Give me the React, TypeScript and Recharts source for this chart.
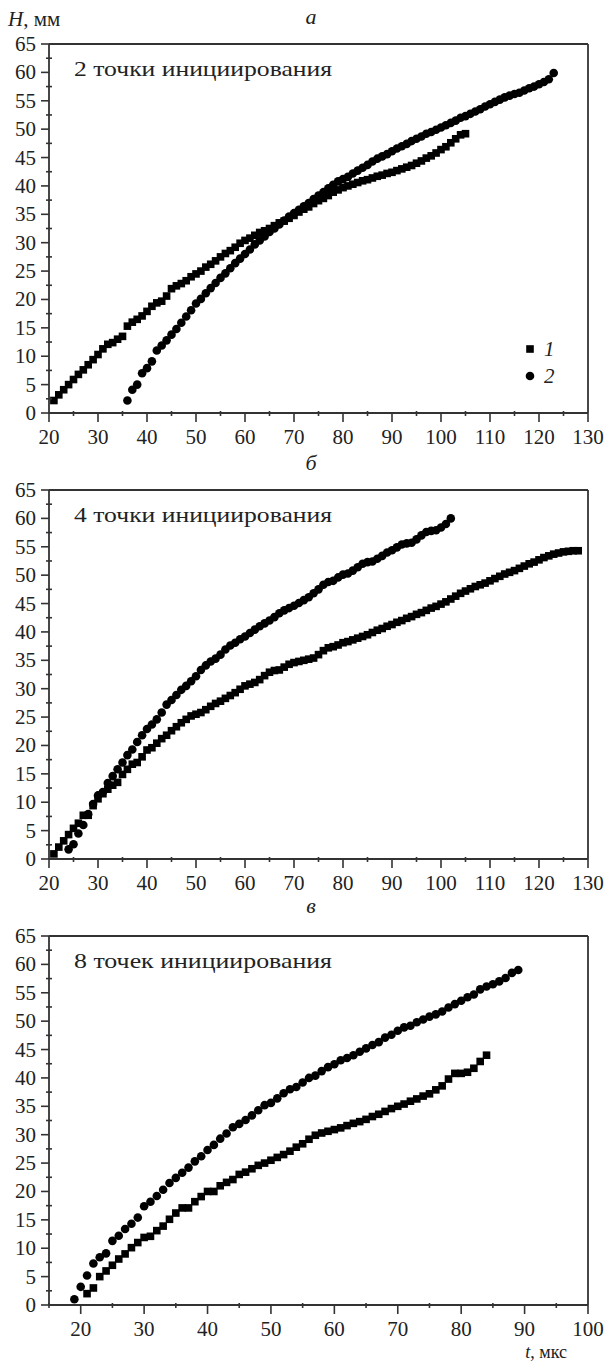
import React from "react";
import { ScatterChart, Scatter, XAxis, YAxis, ReferenceLine, Legend } from "recharts";

// ---------- data: [t (мкс), H (мм)] ----------
const A1: [number, number][] = [[21,2.2],[22,3.2],[23,4.1],[24,5.0],[25,5.9],[26,6.8],[27,7.6],[28,8.5],[29,9.4],[30,10.3],[31,11.3],[32,12.1],[33,12.4],[34,13.0],[35,13.5],[36,15.3],[37,16.0],[38,16.5],[39,17.1],[40,17.9],[41,18.8],[42,19.4],[43,19.7],[44,20.6],[45,21.9],[46,22.4],[47,22.8],[48,23.3],[49,24.0],[50,24.5],[51,25.0],[52,25.7],[53,26.2],[54,26.8],[55,27.5],[56,28.1],[57,28.6],[58,29.2],[59,29.9],[60,30.4],[61,30.8],[62,31.3],[63,31.8],[64,32.1],[65,32.5],[66,33.0],[67,33.5],[68,33.8],[69,34.3],[70,34.8],[71,35.4],[72,35.9],[73,36.3],[74,36.9],[75,37.4],[76,37.8],[77,38.3],[78,38.9],[79,39.3],[80,39.7],[81,40.0],[82,40.3],[83,40.6],[84,40.9],[85,41.1],[86,41.4],[87,41.7],[88,41.9],[89,42.2],[90,42.4],[91,42.7],[92,43.0],[93,43.3],[94,43.6],[95,44.0],[96,44.4],[97,44.9],[98,45.3],[99,45.8],[100,46.4],[101,46.9],[102,47.6],[103,48.3],[104,49.0],[105,49.2]];
const A2: [number, number][] = [[36,2.2],[37,4.1],[38,5.0],[39,7.0],[40,7.9],[41,9.1],[42,11.0],[43,11.9],[44,12.8],[45,13.8],[46,14.8],[47,15.9],[48,17.0],[49,18.1],[50,19.3],[51,20.1],[52,21.1],[53,22.0],[54,22.9],[55,23.8],[56,24.6],[57,25.5],[58,26.4],[59,27.2],[60,28.0],[61,28.8],[62,29.7],[63,30.4],[64,31.1],[65,31.9],[66,32.5],[67,33.2],[68,33.9],[69,34.6],[70,35.2],[71,35.8],[72,36.4],[73,37.0],[74,37.7],[75,38.3],[76,38.9],[77,39.6],[78,40.2],[79,40.8],[80,41.2],[81,41.6],[82,42.2],[83,42.7],[84,43.2],[85,43.7],[86,44.3],[87,44.8],[88,45.2],[89,45.6],[90,46.1],[91,46.6],[92,47.0],[93,47.4],[94,47.9],[95,48.3],[96,48.7],[97,49.2],[98,49.5],[99,49.9],[100,50.3],[101,50.7],[102,51.1],[103,51.5],[104,52.0],[105,52.3],[106,52.7],[107,53.1],[108,53.5],[109,54.0],[110,54.4],[111,54.8],[112,55.2],[113,55.6],[114,55.9],[115,56.2],[116,56.4],[117,56.8],[118,57.2],[119,57.5],[120,57.9],[121,58.3],[122,58.8],[123,59.9]];

const B1: [number, number][] = [[21,0.9],[22,2.1],[23,3.2],[24,4.3],[25,5.4],[26,6.3],[27,7.7],[28,7.7],[29,9.4],[30,10.6],[31,11.5],[32,12.3],[33,13.0],[34,13.5],[35,14.9],[36,15.8],[37,16.7],[38,17.0],[39,18.0],[40,19.2],[41,19.6],[42,20.4],[43,21.2],[44,21.8],[45,22.6],[46,23.3],[47,24.0],[48,24.6],[49,25.2],[50,25.5],[51,25.8],[52,26.3],[53,26.9],[54,27.4],[55,27.8],[56,28.3],[57,28.8],[58,29.3],[59,29.9],[60,30.5],[61,30.8],[62,31.1],[63,31.6],[64,32.3],[65,32.9],[66,33.2],[67,33.3],[68,33.8],[69,34.3],[70,34.6],[71,34.8],[72,35.0],[73,35.2],[74,35.4],[75,36.0],[76,36.7],[77,37.2],[78,37.4],[79,37.7],[80,38.1],[81,38.3],[82,38.6],[83,38.9],[84,39.2],[85,39.5],[86,39.9],[87,40.3],[88,40.6],[89,41.0],[90,41.3],[91,41.7],[92,42.0],[93,42.4],[94,42.7],[95,43.1],[96,43.4],[97,43.8],[98,44.2],[99,44.5],[100,44.9],[101,45.3],[102,45.8],[103,46.3],[104,46.8],[105,47.2],[106,47.6],[107,48.0],[108,48.3],[109,48.6],[110,49.0],[111,49.4],[112,49.8],[113,50.2],[114,50.5],[115,50.8],[116,51.2],[117,51.6],[118,52.0],[119,52.3],[120,52.7],[121,53.1],[122,53.4],[123,53.7],[124,53.9],[125,54.1],[126,54.2],[127,54.3],[128,54.3]];
const B2: [number, number][] = [[24,1.7],[25,2.6],[26,4.5],[27,6.0],[28,7.9],[29,9.7],[30,11.2],[31,11.8],[32,13.4],[33,14.6],[34,15.8],[35,17.0],[36,18.3],[37,19.3],[38,20.6],[39,21.8],[40,22.9],[41,23.7],[42,24.6],[43,25.8],[44,27.2],[45,28.0],[46,28.9],[47,29.8],[48,30.5],[49,31.3],[50,32.2],[51,33.3],[52,34.1],[53,34.8],[54,35.3],[55,36.0],[56,36.9],[57,37.6],[58,38.1],[59,38.7],[60,39.2],[61,39.8],[62,40.4],[63,41.0],[64,41.5],[65,42.0],[66,42.6],[67,43.3],[68,43.8],[69,44.2],[70,44.6],[71,45.1],[72,45.6],[73,46.1],[74,46.8],[75,47.5],[76,48.3],[77,48.8],[78,49.0],[79,49.6],[80,50.1],[81,50.3],[82,50.8],[83,51.4],[84,52.0],[85,52.3],[86,52.4],[87,52.9],[88,53.4],[89,54.0],[90,54.4],[91,54.9],[92,55.4],[93,55.6],[94,55.7],[95,56.3],[96,57.0],[97,57.6],[98,57.8],[99,57.9],[100,58.4],[101,59.0],[102,60.0]];

const C1: [number, number][] = [[21,2.0],[22,3.0],[23,5.0],[24,6.0],[25,7.0],[26,8.1],[27,9.0],[28,10.1],[29,11.0],[30,11.9],[31,12.1],[32,13.1],[33,13.9],[34,15.1],[35,16.2],[36,17.1],[37,17.1],[38,18.2],[39,19.1],[40,20.0],[41,20.0],[42,21.0],[43,21.6],[44,22.1],[45,23.0],[46,23.4],[47,24.0],[48,24.6],[49,25.0],[50,25.5],[51,26.0],[52,26.5],[53,27.1],[54,27.8],[55,28.4],[56,29.2],[57,29.9],[58,30.3],[59,30.6],[60,30.9],[61,31.2],[62,31.6],[63,32.0],[64,32.3],[65,32.7],[66,33.2],[67,33.6],[68,34.1],[69,34.6],[70,35.0],[71,35.4],[72,35.9],[73,36.3],[74,36.8],[75,37.2],[76,37.9],[77,38.6],[78,39.8],[79,40.8],[80,40.8],[81,41.0],[82,41.7],[83,42.9],[84,44.0]];
const C2: [number, number][] = [[19,1.0],[20,3.2],[21,5.2],[22,7.3],[23,8.4],[24,9.1],[25,11.3],[26,12.2],[27,13.4],[28,14.3],[29,15.4],[30,17.4],[31,18.2],[32,19.2],[33,20.3],[34,21.5],[35,22.4],[36,23.3],[37,24.2],[38,25.3],[39,26.2],[40,27.3],[41,28.2],[42,29.3],[43,30.2],[44,31.3],[45,31.9],[46,32.6],[47,33.4],[48,34.3],[49,35.2],[50,35.6],[51,36.4],[52,37.3],[53,38.0],[54,38.4],[55,39.2],[56,40.0],[57,40.4],[58,41.2],[59,41.9],[60,42.4],[61,43.1],[62,43.5],[63,44.0],[64,44.6],[65,45.2],[66,45.8],[67,46.3],[68,47.1],[69,47.6],[70,48.3],[71,48.9],[72,49.2],[73,49.8],[74,50.3],[75,50.8],[76,51.2],[77,51.7],[78,52.4],[79,53.0],[80,53.6],[81,54.2],[82,54.7],[83,55.6],[84,56.1],[85,56.5],[86,57.0],[87,57.6],[88,58.5],[89,59.0]];

// ---------- ticks ----------
const Y_TICKS = [0, 2.5, 5, 7.5, 10, 12.5, 15, 17.5, 20, 22.5, 25, 27.5, 30, 32.5, 35, 37.5, 40, 42.5, 45, 47.5, 50, 52.5, 55, 57.5, 60, 62.5, 65];
const X_TICKS_AB = [20, 25, 30, 35, 40, 45, 50, 55, 60, 65, 70, 75, 80, 85, 90, 95, 100, 105, 110, 115, 120, 125, 130];
const X_TICKS_C = [15, 20, 25, 30, 35, 40, 45, 50, 55, 60, 65, 70, 75, 80, 85, 90, 95, 100];

const PANEL_TITLES = ["а", "б", "в"];
const PANEL_NOTES = ["2 точки инициирования", "4 точки инициирования", "8 точек инициирования"];
const LEGEND_ITEMS = [{ label: "1", shape: "square" }, { label: "2", shape: "circle" }];

const AX = "#333";
const FONT = "Liberation Serif, DejaVu Serif, serif";
const FS = 21;

const toPts = (arr: [number, number][]) => arr.map(([t, h]) => ({ t, h }));

const Square = (p: any) => <rect x={p.cx - 3.8} y={p.cy - 3.8} width={7.6} height={7.6} fill="#000" />;
const Dot = (p: any) => <circle cx={p.cx} cy={p.cy} r={4.3} fill="#000" />;

const XTick = (p: any) => {
  const { x, y, payload } = p;
  const v = payload.value;
  const major = v % 10 === 0;
  return (
    <g>
      <line x1={x} x2={x} y1={y - (major ? 0 : 2)} y2={y + (major ? 9 : 3)} stroke={AX} strokeWidth={1.6} />
      {major && (
        <text x={x} y={y + 31} textAnchor="middle" fontFamily={FONT} fontSize={FS} fill="#222">
          {v}
        </text>
      )}
    </g>
  );
};

const YTick = (p: any) => {
  const { x, y, payload } = p;
  const v = payload.value;
  const major = v % 5 === 0;
  return (
    <g>
      <line x1={major ? x - 8 : x - 3} x2={major ? x : x + 3} y1={y} y2={y} stroke={AX} strokeWidth={1.6} />
      {major && (
        <text x={x - 13} y={y + 7} textAnchor="end" fontFamily={FONT} fontSize={FS} fill="#222">
          {v}
        </text>
      )}
    </g>
  );
};

const LegendBox = () => (
  <svg width={60} height={56}>
    {LEGEND_ITEMS.map((it, i) => (
      <g key={it.label}>
        {it.shape === "square" ? (
          <rect x={4.2} y={9.2 + i * 27} width={7.6} height={7.6} fill="#000" />
        ) : (
          <circle cx={8} cy={13 + i * 27} r={4.3} fill="#000" />
        )}
        <text x={22} y={20 + i * 27} fontFamily={FONT} fontStyle="italic" fontSize={FS} fill="#222">
          {it.label}
        </text>
      </g>
    ))}
  </svg>
);

type PanelProps = {
  top: number;
  s1: [number, number][];
  s2: [number, number][];
  xDomain: [number, number];
  xTicks: number[];
  legend?: boolean;
};

const Panel = ({ top, s1, s2, xDomain, xTicks, legend }: PanelProps) => (
  <div style={{ position: "absolute", left: 0, top }}>
    <ScatterChart width={607} height={453} margin={{ top: 44, right: 19, bottom: 0, left: 0 }}>
      <XAxis
        type="number"
        dataKey="t"
        domain={xDomain}
        ticks={xTicks}
        interval={0}
        height={40}
        tickSize={0}
        tickMargin={0}
        tick={<XTick />}
        axisLine={{ stroke: AX, strokeWidth: 1.8 }}
        allowDataOverflow
      />
      <YAxis
        type="number"
        dataKey="h"
        domain={[0, 65]}
        ticks={Y_TICKS}
        interval={0}
        width={49}
        tickSize={0}
        tickMargin={0}
        tick={<YTick />}
        axisLine={{ stroke: AX, strokeWidth: 1.8 }}
        allowDataOverflow
      />
      <ReferenceLine y={65} stroke={AX} strokeWidth={1.8} />
      <ReferenceLine x={xDomain[1]} stroke={AX} strokeWidth={1.8} />
      <Scatter name="1" data={toPts(s1)} shape={Square} isAnimationActive={false} />
      <Scatter name="2" data={toPts(s2)} shape={Dot} isAnimationActive={false} />
      {legend && (
        <Legend
          layout="horizontal"
          align="center"
          verticalAlign="middle"
          content={() => <LegendBox />}
          wrapperStyle={{ left: 522, top: 336, width: 60, height: 56 }}
        />
      )}
    </ScatterChart>
  </div>
);

const TOPS = [0, 446, 892];

export default function App() {
  return (
    <div style={{ position: "absolute", left: 0, top: 0, width: 607, height: 1363, background: "#fff" }}>
      <Panel top={TOPS[0]} s1={A1} s2={A2} xDomain={[20, 130]} xTicks={X_TICKS_AB} legend />
      <Panel top={TOPS[1]} s1={B1} s2={B2} xDomain={[20, 130]} xTicks={X_TICKS_AB} />
      <Panel top={TOPS[2]} s1={C1} s2={C2} xDomain={[15, 100]} xTicks={X_TICKS_C} />
      <svg width={607} height={1363} style={{ position: "absolute", left: 0, top: 0, pointerEvents: "none" }}>
        <text x={8} y={26} fontFamily={FONT} fontSize={FS} fill="#222">
          <tspan fontStyle="italic">H</tspan>, мм
        </text>
        {TOPS.map((t, i) => (
          <g key={i}>
            <text x={311} y={t + (i === 2 ? 21 : 24)} textAnchor="middle" fontFamily={FONT} fontStyle="italic" fontSize={22} fill="#222">
              {PANEL_TITLES[i]}
            </text>
            <text x={74} y={t + 76} fontFamily={FONT} fontSize={FS} fill="#222" textLength={258} lengthAdjust="spacingAndGlyphs">
              {PANEL_NOTES[i]}
            </text>
          </g>
        ))}
        <text x={567} y={1358} textAnchor="end" fontFamily={FONT} fontSize={18} fill="#222">
          <tspan fontStyle="italic">t</tspan>, мкс
        </text>
      </svg>
    </div>
  );
}
